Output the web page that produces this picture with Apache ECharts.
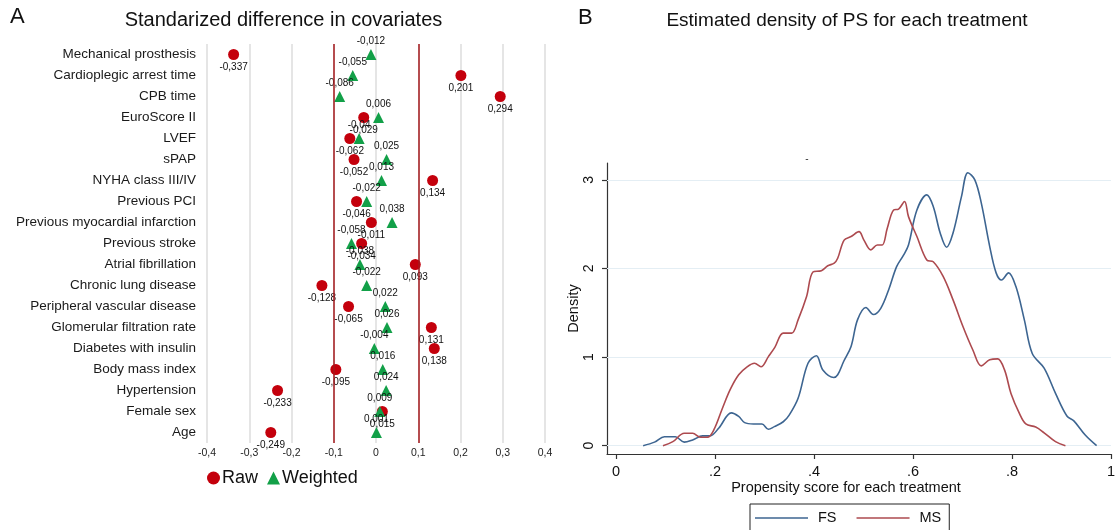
<!DOCTYPE html>
<html>
<head>
<meta charset="utf-8">
<script src="https://cdn.jsdelivr.net/npm/echarts@6/dist/echarts.min.js"></script>
<style>
html,body{margin:0;padding:0;background:#fff;}
#c{width:1118px;height:530px;}
</style>
</head>
<body>
<div id="c"></div>
<script>
// ---- Panel A data ----
var categories = ['Mechanical prosthesis','Cardioplegic arrest time','CPB time','EuroScore II','LVEF','sPAP','NYHA class III/IV','Previous PCI','Previous myocardial infarction','Previous stroke','Atrial fibrillation','Chronic lung disease','Peripheral vascular disease','Glomerular filtration rate','Diabetes with insulin','Body mass index','Hypertension','Female sex','Age'];
var rawValues = [-0.337, 0.201, 0.294, -0.029, -0.062, -0.052, 0.134, -0.046, -0.011, -0.034, 0.093, -0.128, -0.065, 0.131, 0.138, -0.095, -0.233, 0.015, -0.249];
var weightedValues = [-0.012, -0.055, -0.086, 0.006, -0.04, 0.025, 0.013, -0.022, 0.038, -0.058, -0.038, -0.022, 0.022, 0.026, -0.004, 0.016, 0.024, 0.009, 0.001];
var thresholds = [-0.1, 0.1];

// ---- Panel B data ----
var fsX = [0.055,0.078,0.098,0.12,0.138,0.155,0.175,0.19,0.208,0.233,0.248,0.26,0.278,0.295,0.308,0.32,0.338,0.35,0.368,0.388,0.405,0.418,0.44,0.448,0.46,0.475,0.488,0.505,0.52,0.535,0.551,0.567,0.581,0.591,0.608,0.628,0.641,0.655,0.668,0.681,0.698,0.711,0.725,0.738,0.755,0.768,0.779,0.793,0.808,0.825,0.841,0.865,0.888,0.911,0.925,0.948,0.971];
var fsY = [0,0.04,0.10,0.10,0.04,0.065,0.11,0.11,0.20,0.37,0.33,0.26,0.245,0.245,0.185,0.215,0.27,0.345,0.535,0.93,1.015,0.855,0.77,0.80,0.95,1.12,1.42,1.56,1.48,1.55,1.76,2.02,2.15,2.265,2.66,2.83,2.70,2.40,2.24,2.40,2.81,3.08,3.0,2.74,2.25,1.95,1.87,1.95,1.795,1.42,1.04,0.875,0.59,0.335,0.28,0.12,0.0];
var msX = [0.095,0.115,0.138,0.155,0.171,0.185,0.198,0.215,0.231,0.248,0.265,0.28,0.293,0.308,0.321,0.338,0.355,0.368,0.385,0.398,0.415,0.428,0.441,0.448,0.461,0.475,0.491,0.501,0.515,0.528,0.538,0.548,0.561,0.571,0.583,0.591,0.608,0.628,0.641,0.661,0.681,0.701,0.721,0.738,0.755,0.771,0.785,0.798,0.815,0.828,0.848,0.865,0.888,0.908];
var msY = [0,0.045,0.14,0.14,0.095,0.095,0.18,0.42,0.635,0.80,0.89,0.93,0.89,1.005,1.11,1.27,1.27,1.42,1.68,1.96,1.975,2.03,2.06,2.115,2.32,2.36,2.415,2.32,2.21,2.265,2.265,2.45,2.66,2.67,2.755,2.585,2.36,2.095,2.075,1.91,1.645,1.345,1.08,0.90,0.97,0.98,0.855,0.59,0.365,0.245,0.21,0.145,0.045,0.0];
var psTicks = [0, 0.2, 0.4, 0.6, 0.8, 1];
var psTickLabels = ['0', '.2', '.4', '.6', '.8', '1'];
var densTicks = [0, 1, 2, 3];
var densTickLabels = ['0', '1', '2', '3'];

var FONT = '"Liberation Sans", Arial, Helvetica, sans-serif';
function commaFmt(v){ return String(v).replace('.', ','); }
function pairs(xs, ys){ return xs.map(function(x,i){ return [x, ys[i]]; }); }

var chart = echarts.init(document.getElementById('c'), null, {renderer:'canvas'});
chart.setOption({
  animation: false,
  backgroundColor: '#fff',
  textStyle: {fontFamily: FONT},
  graphic: [
    {type:'text', x:10, y:6, style:{text:'A', font:'22px ' + FONT, fill:'#111'}},
    {type:'text', x:283.5, y:20, style:{text:'Standarized difference in covariates', font:'20px ' + FONT, fill:'#111', textAlign:'center', textVerticalAlign:'middle'}},
    {type:'text', x:578, y:7, style:{text:'B', font:'22px ' + FONT, fill:'#111'}},
    {type:'text', x:847, y:21, style:{text:'Estimated density of PS for each treatment', font:'19px ' + FONT, fill:'#111', textAlign:'center', textVerticalAlign:'middle'}},
    {type:'text', x:846, y:488, style:{text:'Propensity score for each treatment', font:'14.5px ' + FONT, fill:'#111', textAlign:'center', textVerticalAlign:'middle'}},
    {type:'text', x:807, y:159, style:{text:'-', font:'10px ' + FONT, fill:'#333', textAlign:'center', textVerticalAlign:'middle'}}
  ],
  legend: [
    {
      data: [{name:'Raw', icon:'circle'}, {name:'Weighted', icon:'triangle'}],
      left: 207, top: 469, padding: 0,
      itemWidth: 13, itemHeight: 13, itemGap: 9,
      textStyle: {fontSize: 18, color:'#111', fontFamily: FONT, padding:[0,0,0,-3]}
    },
    {
      data: [{name:'FS', icon:'rect'}, {name:'MS', icon:'rect'}],
      left: 750, top: 504,
      padding: [6, 8, 12, 5],
      borderColor: '#222', borderWidth: 1, borderRadius: 0,
      itemWidth: 53, itemHeight: 1.6, itemGap: 20,
      textStyle: {fontSize: 14.5, color:'#111', fontFamily: FONT, padding:[0,0,0,5], lineHeight: 16}
    }
  ],
  grid: [
    {left: 207, width: 338, top: 44, height: 399},
    {left: 607, right: 2, top: 163, bottom: 76}
  ],
  xAxis: [
    {
      gridIndex: 0, type: 'value', min: -0.4, max: 0.4, interval: 0.1,
      axisLine: {show: false}, axisTick: {show: false},
      axisLabel: {fontSize: 10.5, color: '#222', margin: 5,
        formatter: function(v){ return Math.abs(v) < 1e-9 ? '0' : v.toFixed(1).replace('.', ','); }},
      splitLine: {show: true, lineStyle: {color: '#dcdcdc', width: 1.5}}
    },
    {
      gridIndex: 1, type: 'value', min: -0.018, max: 1,
      axisLine: {show: true, onZero: false, lineStyle: {color: '#333', width: 1.2}},
      axisTick: {show: true, customValues: psTicks, length: 5, lineStyle: {color: '#333', width: 1.2}},
      axisLabel: {customValues: psTicks, fontSize: 14.5, color: '#111', margin: 10,
        formatter: function(v){ var i = psTicks.indexOf(v); return i >= 0 ? psTickLabels[i] : ''; }},
      splitLine: {show: false}
    }
  ],
  yAxis: [
    {
      gridIndex: 0, type: 'category', data: categories, inverse: true,
      axisLine: {show: false}, axisTick: {show: false}, splitLine: {show: false},
      axisLabel: {fontSize: 13.5, color: '#1a1a1a', margin: 11}
    },
    {
      gridIndex: 1, type: 'value', min: -0.094, max: 3.19,
      name: 'Density', nameLocation: 'middle', nameGap: 25,
      nameTextStyle: {fontSize: 14.5, color: '#111', fontFamily: FONT},
      axisLine: {show: true, onZero: false, lineStyle: {color: '#333', width: 1.2}},
      axisTick: {show: true, customValues: densTicks, length: 5, lineStyle: {color: '#333', width: 1.2}},
      axisLabel: {customValues: densTicks, rotate: 90, fontSize: 14, color: '#111', margin: 11,
        formatter: function(v){ var i = densTicks.indexOf(v); return i >= 0 ? densTickLabels[i] : ''; }},
      splitLine: {show: false}
    }
  ],
  series: [
    {
      name: 'Raw', type: 'scatter', xAxisIndex: 0, yAxisIndex: 0,
      symbol: 'circle', symbolSize: 11,
      itemStyle: {color: '#c4000c', opacity: 1},
      data: rawValues.map(function(v,i){ return [v, categories[i]]; }),
      label: {show: true, position: 'bottom', distance: 2, fontSize: 10, color: '#111',
        formatter: function(p){ return commaFmt(p.value[0]); }},
      markLine: {
        silent: true, symbol: 'none', label: {show: false},
        lineStyle: {color: '#a5181c', width: 1.5, type: 'solid', opacity: 1},
        data: thresholds.map(function(t){ return {xAxis: t}; })
      },
      z: 3
    },
    {
      name: 'Weighted', type: 'scatter', xAxisIndex: 0, yAxisIndex: 0,
      symbol: 'triangle', symbolSize: 11,
      itemStyle: {color: '#12a048', opacity: 1},
      data: weightedValues.map(function(v,i){ return [v, categories[i]]; }),
      label: {show: true, position: 'top', distance: 3, fontSize: 10, color: '#111',
        formatter: function(p){ return commaFmt(p.value[0]); }},
      z: 4
    },
    {
      name: 'FS', type: 'line', xAxisIndex: 1, yAxisIndex: 1,
      data: pairs(fsX, fsY), symbol: 'none', smooth: 0.35,
      lineStyle: {color: '#3d6591', width: 1.6}, itemStyle: {color: '#3d6591'},
      markLine: {
        silent: true, symbol: 'none', label: {show: false}, z: 1,
        lineStyle: {color: '#e4eef4', width: 1.2, type: 'solid', opacity: 1},
        data: densTicks.map(function(t){ return {yAxis: t}; })
      },
      z: 3
    },
    {
      name: 'MS', type: 'line', xAxisIndex: 1, yAxisIndex: 1,
      data: pairs(msX, msY), symbol: 'none', smooth: 0.35,
      lineStyle: {color: '#ad4a4f', width: 1.6}, itemStyle: {color: '#ad4a4f'},
      z: 3
    }
  ]
});
</script>
</body>
</html>
